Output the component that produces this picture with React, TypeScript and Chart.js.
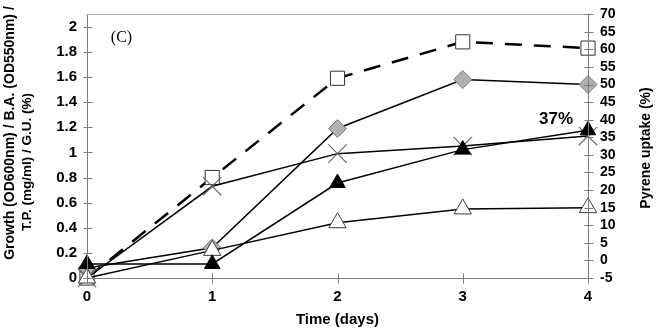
import React, { useEffect, useRef } from "react";
import { Chart, registerables } from "chart.js";

Chart.register(...registerables);

// Sampling days
const days = [0, 1, 2, 3, 4];

// Left-axis series
const squareSeries = [0, 0.8, 1.59, 1.88, 1.83];
const diamondSeries = [0.08, 0.24, 1.19, 1.58, 1.54];
const crossSeries = [0, 0.73, 0.99, 1.05, 1.13];
const openTriangleSeries = [0, 0.22, 0.44, 0.55, 0.56];

// Right-axis series (pyrene uptake, %)
const pyreneUptake = [-1, -1, 22, 31.5, 37];

// Axis ticks
const dayTicks = [0, 1, 2, 3, 4];
const leftTicks = [0, 0.2, 0.4, 0.6, 0.8, 1, 1.2, 1.4, 1.6, 1.8, 2];
const rightTicks = [-5, 0, 5, 10, 15, 20, 25, 30, 35, 40, 45, 50, 55, 60, 65, 70];

// Texts
const leftTitleLines = ["Growth (OD600nm) / B.A. (OD550nm) /", "T.P. (mg/ml) / G.U. (%)"];
const rightTitle = "Pyrene uptake (%)";
const xTitle = "Time (days)";
const panelLabel = "(C)";

const FONT = "'Liberation Sans', Arial, sans-serif";

const toPoints = (ys: number[]) => days.map((d, i) => ({ x: d, y: ys[i] }));

const noScalePadding = (s: any) => {
  s.paddingTop = 0;
  s.paddingBottom = 0;
  s.paddingLeft = 0;
  s.paddingRight = 0;
};

// Axis lines with crossing tick marks, drawn over the markers
const crossAxesPlugin = {
  id: "crossAxes",
  afterDatasetsDraw(chart: any) {
    const { ctx, chartArea: a, scales } = chart;
    const L = Math.round(a.left) + 0.5;
    const R = Math.round(a.right) + 0.5;
    const T = Math.round(a.top) + 0.5;
    const B = Math.round(a.bottom) + 0.5;
    ctx.save();
    ctx.lineWidth = 1;
    ctx.strokeStyle = "#b4b4b4";
    ctx.beginPath();
    ctx.moveTo(L, T);
    ctx.lineTo(R, T);
    ctx.stroke();

    ctx.strokeStyle = "#7c7c7c";
    ctx.beginPath();
    ctx.moveTo(L, T);
    ctx.lineTo(L, B);
    ctx.moveTo(L, B);
    ctx.lineTo(R, B);
    ctx.moveTo(R, T);
    ctx.lineTo(R, B);
    for (const v of leftTicks) {
      const y = Math.round(scales.y.getPixelForValue(v)) + 0.5;
      ctx.moveTo(L - 4, y);
      ctx.lineTo(L + 5, y);
    }
    for (const v of rightTicks) {
      const y = Math.round(scales.y1.getPixelForValue(v)) + 0.5;
      ctx.moveTo(R - 4, y);
      ctx.lineTo(R + 5, y);
    }
    for (const v of dayTicks) {
      const x = Math.round(scales.x.getPixelForValue(v)) + 0.5;
      ctx.moveTo(x, B - 5);
      ctx.lineTo(x, B + 5);
    }
    ctx.stroke();
    ctx.restore();
  },
};

// Rotated axis titles, panel letter and the uptake value label
const textPlugin = {
  id: "texts",
  afterDraw(chart: any) {
    const { ctx, chartArea: a } = chart;
    ctx.save();
    ctx.fillStyle = "#000";
    ctx.textBaseline = "middle";
    ctx.textAlign = "center";

    const leftAnchors = [
      { x: 10, y: 133, size: 14 },
      { x: 27, y: 162, size: 13.5 },
    ];
    leftTitleLines.forEach((line, i) => {
      ctx.save();
      ctx.font = `bold ${leftAnchors[i].size}px ${FONT}`;
      ctx.translate(leftAnchors[i].x, leftAnchors[i].y);
      ctx.rotate(-Math.PI / 2);
      ctx.fillText(line, 0, 0);
      ctx.restore();
    });

    ctx.font = `bold 14px ${FONT}`;
    ctx.save();
    ctx.translate(646, 148);
    ctx.rotate(-Math.PI / 2);
    ctx.fillText(rightTitle, 0, 0);
    ctx.restore();

    ctx.font = `16px 'Liberation Serif', 'Times New Roman', serif`;
    ctx.fillText(panelLabel, a.left + 34.5, a.top + 24);

    const meta = chart.getDatasetMeta(0);
    const last = meta.data[meta.data.length - 1];
    ctx.font = `bold 17px ${FONT}`;
    ctx.fillText(`${pyreneUptake[pyreneUptake.length - 1]}%`, last.x - 32, last.y - 11);
    ctx.restore();
  },
};

export default function App() {
  const canvasRef = useRef<HTMLCanvasElement | null>(null);

  useEffect(() => {
    const canvas = canvasRef.current;
    if (!canvas) return;

    const common = { tension: 0, clip: false as any, fill: false };

    const chart = new Chart(canvas, {
      type: "line",
      data: {
        datasets: [
          {
            ...common,
            label: "Pyrene uptake",
            data: toPoints(pyreneUptake),
            yAxisID: "y1",
            borderColor: "#000",
            borderWidth: 1.5,
            pointStyle: "triangle",
            pointRadius: 9,
            pointBackgroundColor: "#000",
            pointBorderColor: "#000",
            pointBorderWidth: 1,
          },
          {
            ...common,
            label: "Open triangle",
            data: toPoints(openTriangleSeries),
            yAxisID: "y",
            borderColor: "#000",
            borderWidth: 1.5,
            pointStyle: "triangle",
            pointRadius: 10,
            pointBackgroundColor: "#fff",
            pointBorderColor: "#3c3c3c",
            pointBorderWidth: 1,
          },
          {
            ...common,
            label: "Cross",
            data: toPoints(crossSeries),
            yAxisID: "y",
            borderColor: "#000",
            borderWidth: 1.5,
            pointStyle: "crossRot",
            pointRadius: 13,
            pointBackgroundColor: "#fff",
            pointBorderColor: "#6a6a6a",
            pointBorderWidth: 1.2,
          },
          {
            ...common,
            label: "Diamond",
            data: toPoints(diamondSeries),
            yAxisID: "y",
            borderColor: "#000",
            borderWidth: 1.5,
            pointStyle: "rectRot",
            pointRadius: 9,
            pointBackgroundColor: "#b0b0b0",
            pointBorderColor: "#7a7a7a",
            pointBorderWidth: 1,
          },
          {
            ...common,
            label: "Square",
            data: toPoints(squareSeries),
            yAxisID: "y",
            borderColor: "#000",
            borderWidth: 2.5,
            borderDash: [17, 12],
            pointStyle: "rect",
            pointRadius: 10,
            pointBackgroundColor: "#fff",
            pointBorderColor: "#333",
            pointBorderWidth: 1,
          },
        ],
      },
      options: {
        responsive: false,
        animation: false,
        events: [],
        layout: { padding: { top: 9, left: 0, right: 0, bottom: 0 } },
        plugins: {
          legend: { display: false },
          tooltip: { enabled: false },
        },
        scales: {
          x: {
            type: "linear",
            min: 0,
            max: 4,
            afterBuildTicks: (s: any) => {
              s.ticks = dayTicks.map((v) => ({ value: v }));
            },
            afterFit: (s: any) => {
              noScalePadding(s);
              s.height = 51;
            },
            grid: { display: false, drawTicks: false },
            border: { display: false },
            ticks: {
              color: "#000",
              font: { family: FONT, size: 15, weight: "bold" },
              padding: 10,
              callback: (v: any) => String(v),
            },
            title: {
              display: true,
              text: xTitle,
              color: "#000",
              font: { family: FONT, size: 15, weight: "bold" },
              padding: 0,
            },
          },
          y: {
            type: "linear",
            position: "left",
            min: 0,
            max: 2.1,
            afterBuildTicks: (s: any) => {
              s.ticks = leftTicks.map((v) => ({ value: v }));
            },
            afterFit: (s: any) => {
              noScalePadding(s);
              s.width = 87;
            },
            grid: { display: false, drawTicks: false },
            border: { display: false },
            ticks: {
              color: "#000",
              autoSkip: false,
              font: { family: FONT, size: 15, weight: "bold" },
              padding: 10,
              callback: (v: any) => String(Math.round(Number(v) * 10) / 10),
            },
          },
          y1: {
            type: "linear",
            position: "right",
            min: -5,
            max: 70,
            afterBuildTicks: (s: any) => {
              s.ticks = rightTicks.map((v) => ({ value: v }));
            },
            afterFit: (s: any) => {
              noScalePadding(s);
              s.width = 70;
            },
            grid: { display: false, drawTicks: false },
            border: { display: false },
            ticks: {
              color: "#000",
              autoSkip: false,
              font: { family: FONT, size: 14, weight: "bold" },
              padding: 12,
              callback: (v: any) => String(v),
            },
          },
        },
      },
      plugins: [crossAxesPlugin, textPlugin],
    });

    return () => chart.destroy();
  }, []);

  return (
    <div style={{ position: "absolute", left: 0, top: 0, width: 658, height: 329, background: "#fff" }}>
      <canvas ref={canvasRef} width={658} height={329} style={{ display: "block" }} />
    </div>
  );
}
